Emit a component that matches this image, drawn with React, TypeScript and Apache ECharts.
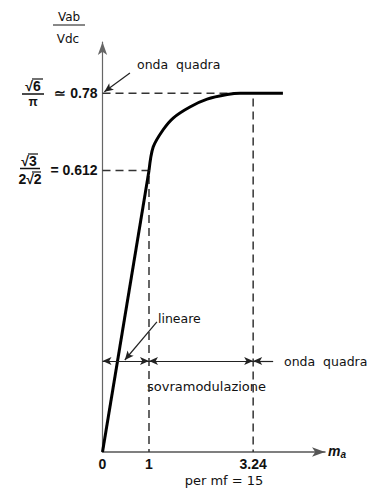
import React, { useEffect, useRef } from "react";
import * as echarts from "echarts";

// Modulation index m_a (x) and normalised output Vab/Vdc (y)
const linearMa = [0, 1];
const linearRatio = [0, 0.612];
const overMa = [1, 1.09, 1.3, 1.52, 1.88, 2.25, 2.68, 2.96, 3.24, 3.88];
const overRatio = [0.612, 0.663, 0.7, 0.726, 0.75, 0.767, 0.777, 0.78, 0.78, 0.78];

// Region boundaries and reference levels
const boundaryMa = [1, 3.24];
const levelRatio = [0.612, 0.78];
const xTickValues = [0, 1, 3.24];
const xTickLabels = ["0", "1", "3.24"];
const yTickLabels = ["= 0.612", "\u2243 0.78"];

// Region dimension line (drawn at this ratio level)
const regionLevel = 0.198;
const squareWaveEndMa = 3.67;

const FONT = "'DejaVu Sans', Verdana, sans-serif";
const BOLD = "'Liberation Sans', Arial, sans-serif";

export default function App() {
  const ref = useRef<HTMLDivElement>(null);

  useEffect(() => {
    if (!ref.current) return;
    const chart = echarts.init(ref.current, null, { renderer: "svg" });

    const pair = (xs: number[], ys: number[]) => xs.map((x, i) => [x, ys[i]]);
    const dash = { color: "#333", width: 1.5, type: [8, 5] as any };
    const arrowStyle = { color: "#222", width: 1.2, type: "solid" as const };

    chart.setOption({
      animation: false,
      backgroundColor: "#ffffff",
      grid: { left: 102.5, top: 42, width: 222.5, height: 410 },
      xAxis: {
        type: "value",
        min: 0,
        max: 4.785,
        axisLine: {
          lineStyle: { color: "#555", width: 1.5 },
          symbol: ["none", "arrow"],
          symbolSize: [7, 13],
        },
        axisTick: { show: false },
        splitLine: { show: false },
        axisLabel: {
          customValues: xTickValues,
          formatter: (v: number) => {
            const i = xTickValues.findIndex((t) => Math.abs(t - v) < 1e-6);
            return i >= 0 ? xTickLabels[i] : "";
          },
          color: "#111",
          fontFamily: BOLD,
          fontWeight: "bold",
          fontSize: 14,
          margin: 5,
        },
      },
      yAxis: {
        type: "value",
        min: 0,
        max: 0.8913,
        axisLine: {
          show: true,
          lineStyle: { color: "#666", width: 1.2 },
          symbol: ["none", "arrow"],
          symbolSize: [7, 13],
        },
        axisTick: { show: false },
        splitLine: { show: false },
        axisLabel: {
          customValues: levelRatio,
          formatter: (v: number) => {
            const i = levelRatio.findIndex((t) => Math.abs(t - v) < 1e-6);
            return i >= 0 ? yTickLabels[i] : "";
          },
          color: "#111",
          fontFamily: BOLD,
          fontWeight: "bold",
          fontSize: 14,
          margin: 5,
        },
      },
      series: [
        {
          name: "guides",
          type: "line",
          symbol: "none",
          lineStyle: dash,
          data: [
            [0, levelRatio[0]],
            [boundaryMa[0], levelRatio[0]],
            [boundaryMa[0], 0],
            null,
            [0, levelRatio[1]],
            [boundaryMa[1], levelRatio[1]],
            [boundaryMa[1], 0],
          ].map((p) => (p ? p : ["-", "-"])),
          connectNulls: false,
          silent: true,
          z: 1,
        },
        {
          name: "lineare",
          type: "line",
          symbol: "none",
          lineStyle: { color: "#000", width: 3 },
          data: pair(linearMa, linearRatio),
          z: 3,
        },
        {
          name: "sovramodulazione",
          type: "line",
          symbol: "none",
          smooth: 0.3,
          lineStyle: { color: "#000", width: 3 },
          data: pair(overMa, overRatio),
          z: 3,
        },
        {
          name: "annotations",
          type: "line",
          data: [],
          markLine: {
            silent: true,
            symbolSize: [6, 9],
            label: { show: false },
            lineStyle: arrowStyle,
            data: [
              [
                { coord: [0, regionLevel], symbol: "arrow" },
                { coord: [boundaryMa[0], regionLevel], symbol: "arrow" },
              ],
              [
                { coord: [boundaryMa[0], regionLevel], symbol: "arrow" },
                { coord: [boundaryMa[1], regionLevel], symbol: "arrow" },
              ],
              [
                { coord: [boundaryMa[1], regionLevel], symbol: "arrow" },
                { coord: [squareWaveEndMa, regionLevel], symbol: "none" },
              ],
              [
                { coord: [0.59, 0.824], symbol: "none" },
                { coord: [0.04, 0.783], symbol: "arrow" },
              ],
              [
                { coord: [1.17, 0.283], symbol: "none" },
                { coord: [0.48, 0.2], symbol: "arrow" },
              ],
            ],
          },
        },
      ],
      graphic: [
        // y-axis name: Vab / Vdc
        { type: "text", x: 69, y: 17, style: { text: "Vab", font: `12px ${FONT}`, fill: "#111", align: "center", verticalAlign: "middle" } },
        { type: "line", shape: { x1: 53, y1: 25, x2: 85, y2: 25 }, style: { stroke: "#111", lineWidth: 1 } },
        { type: "text", x: 68, y: 39, style: { text: "Vdc", font: `12px ${FONT}`, fill: "#111", align: "center", verticalAlign: "middle" } },

        // sqrt(6)/pi
        { type: "text", x: 33, y: 86, style: { text: "\u221A6", font: `bold 14px ${BOLD}`, fill: "#111", align: "center", verticalAlign: "middle" } },
        { type: "line", shape: { x1: 32, y1: 79, x2: 43, y2: 79 }, style: { stroke: "#111", lineWidth: 1.2 } },
        { type: "line", shape: { x1: 22, y1: 94, x2: 44, y2: 94 }, style: { stroke: "#111", lineWidth: 1.5 } },
        { type: "text", x: 33, y: 102, style: { text: "\u03C0", font: `bold 12px ${BOLD}`, fill: "#111", align: "center", verticalAlign: "middle" } },

        // sqrt(3)/(2 sqrt(2))
        { type: "text", x: 29, y: 161, style: { text: "\u221A3", font: `bold 14px ${BOLD}`, fill: "#111", align: "center", verticalAlign: "middle" } },
        { type: "line", shape: { x1: 28, y1: 154, x2: 38, y2: 154 }, style: { stroke: "#111", lineWidth: 1.2 } },
        { type: "line", shape: { x1: 20, y1: 168.5, x2: 40, y2: 168.5 }, style: { stroke: "#111", lineWidth: 1.5 } },
        { type: "text", x: 30, y: 179, style: { text: "2\u221A2", font: `bold 14px ${BOLD}`, fill: "#111", align: "center", verticalAlign: "middle" } },
        { type: "line", shape: { x1: 32, y1: 172, x2: 41, y2: 172 }, style: { stroke: "#111", lineWidth: 1.2 } },

        // region labels
        { type: "text", x: 137, y: 64, style: { text: "onda  quadra", font: `12.5px ${FONT}`, fill: "#111", verticalAlign: "middle" } },
        { type: "text", x: 158, y: 318, style: { text: "lineare", font: `12.5px ${FONT}`, fill: "#111", verticalAlign: "middle" } },
        { type: "text", x: 284, y: 361, style: { text: "onda  quadra", font: `12.5px ${FONT}`, fill: "#111", verticalAlign: "middle" } },
        { type: "text", x: 147, y: 386, style: { text: "sovramodulazione", font: `13px ${FONT}`, fill: "#111", verticalAlign: "middle" } },
        { type: "text", x: 224, y: 480, style: { text: "per mf = 15", font: `13px ${FONT}`, fill: "#111", align: "center", verticalAlign: "middle" } },

        // x-axis name m_a
        {
          type: "text",
          x: 328,
          y: 451,
          style: {
            text: "{m|m}{a|a}",
            rich: {
              m: { font: `italic bold 14px ${BOLD}`, fill: "#111" },
              a: { font: `italic bold 10px ${BOLD}`, fill: "#111", padding: [6, 0, 0, 0] },
            },
            verticalAlign: "middle",
          },
        },
      ],
    });

    return () => chart.dispose();
  }, []);

  return (
    <div
      ref={ref}
      style={{ position: "fixed", left: 0, top: 0, width: 372, height: 488, background: "#fff" }}
    />
  );
}
